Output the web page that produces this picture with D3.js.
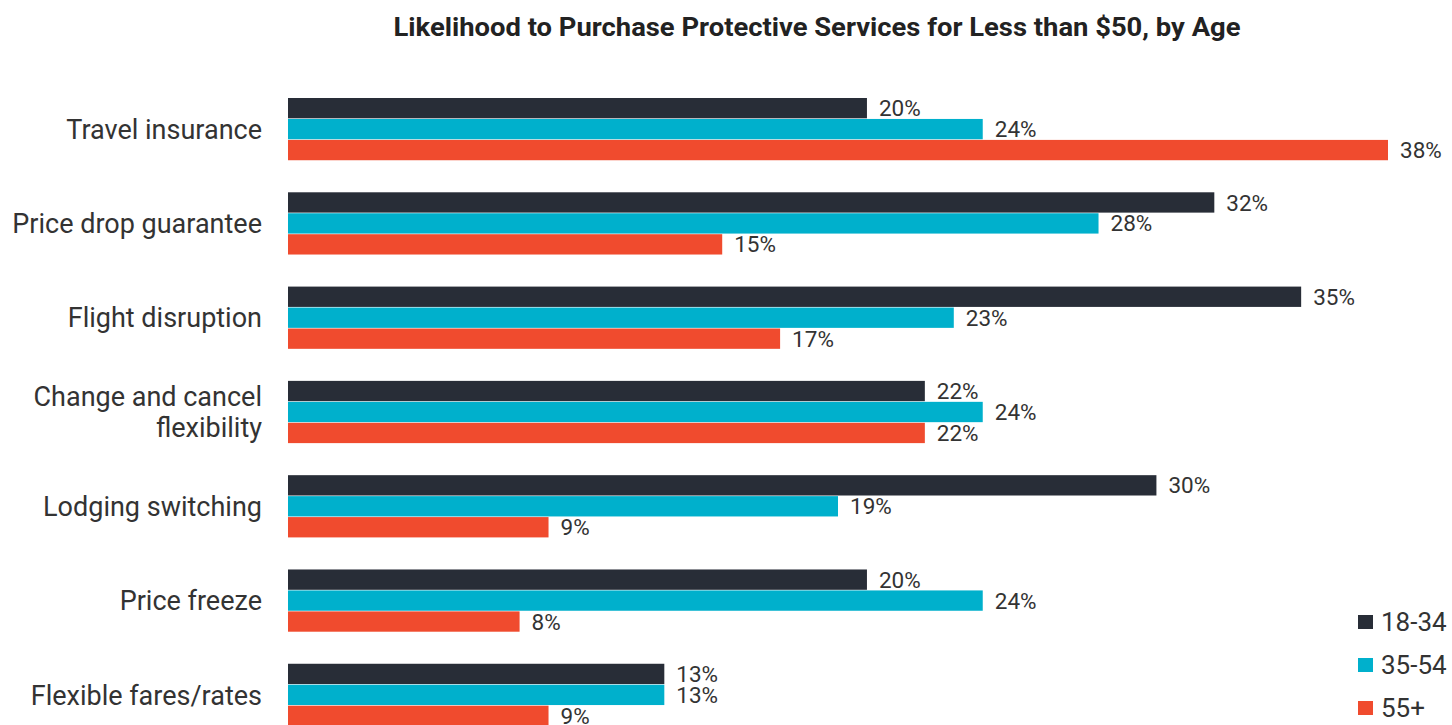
<!DOCTYPE html>
<html>
<head>
<meta charset="utf-8">
<script src="https://cdn.jsdelivr.net/npm/d3@7"></script>
<style>
  body { margin: 0; background: #fff; }
  text { font-family: Roboto, "Noto Sans", sans-serif; }
</style>
</head>
<body>
<script>
// data
const categories = [
  "Travel insurance",
  "Price drop guarantee",
  "Flight disruption",
  "Change and cancel|flexibility",
  "Lodging switching",
  "Price freeze",
  "Flexible fares/rates"
];
const seriesNames = ["18-34", "35-54", "55+"];
const age1834 = [20, 32, 35, 22, 30, 20, 13];
const age3554 = [24, 28, 23, 24, 19, 24, 13];
const age55 = [38, 15, 17, 22, 9, 8, 9];
const colors = ["#282d37", "#00b0cc", "#f04b2e"];

const width = 1452, height = 725;
const seriesValues = [age1834, age3554, age55];

const svg = d3.select("body").append("svg")
  .attr("width", width)
  .attr("height", height);

svg.append("text")
  .attr("x", 817)
  .attr("y", 36)
  .attr("text-anchor", "middle")
  .attr("font-size", 26)
  .attr("font-weight", "bold")
  .attr("fill", "#222")
  .attr("textLength", 847)
  .attr("lengthAdjust", "spacingAndGlyphs")
  .text("Likelihood to Purchase Protective Services for Less than $50, by Age");

const x = d3.scaleLinear().domain([0, 38]).range([288, 1388]);

const y0 = d3.scaleBand()
  .domain(categories)
  .range([98, 726])
  .paddingInner(0.34)
  .paddingOuter(0);

const y1 = d3.scaleBand()
  .domain(seriesNames)
  .range([0, y0.bandwidth()])
  .paddingInner(0.03);

const rows = categories.map((c, i) => ({
  cat: c,
  vals: seriesNames.map((s, j) => ({ s, v: seriesValues[j][i], color: colors[j] }))
}));

const grp = svg.selectAll(".grp").data(rows).enter().append("g")
  .attr("class", "grp")
  .attr("transform", d => `translate(0,${y0(d.cat)})`);

grp.selectAll("rect").data(d => d.vals).enter().append("rect")
  .attr("x", x(0))
  .attr("y", d => y1(d.s))
  .attr("width", d => x(d.v) - x(0))
  .attr("height", y1.bandwidth())
  .attr("fill", d => d.color);

grp.selectAll(".val").data(d => d.vals).enter().append("text")
  .attr("class", "val")
  .attr("x", d => x(d.v) + 12)
  .attr("y", d => y1(d.s) + y1.bandwidth() / 2)
  .attr("dy", "0.36em")
  .attr("font-size", 22.5)
  .attr("fill", "#333")
  .text(d => d.v + "%");

// category labels
grp.each(function(d) {
  const lines = d.cat.split("|");
  const t = d3.select(this).append("text")
    .attr("text-anchor", "end")
    .attr("font-size", 27)
    .attr("fill", "#333");
  const lh = 31;
  const mid = y0.bandwidth() / 2;
  lines.forEach((ln, k) => {
    t.append("tspan")
      .attr("x", 262)
      .attr("y", mid + (k - (lines.length - 1) / 2) * lh)
      .attr("dy", "0.36em")
      .text(ln);
  });
});

// legend
const lg = svg.append("g").selectAll("g").data(seriesNames).enter().append("g")
  .attr("transform", (d, i) => `translate(1358,${622 + i * 43})`);
lg.append("rect")
  .attr("x", 0).attr("y", -7)
  .attr("width", 15).attr("height", 14)
  .attr("fill", (d, i) => colors[i]);
lg.append("text")
  .attr("x", 23)
  .attr("dy", "0.36em")
  .attr("font-size", 26)
  .attr("fill", "#333")
  .text(d => d);
</script>
</body>
</html>
